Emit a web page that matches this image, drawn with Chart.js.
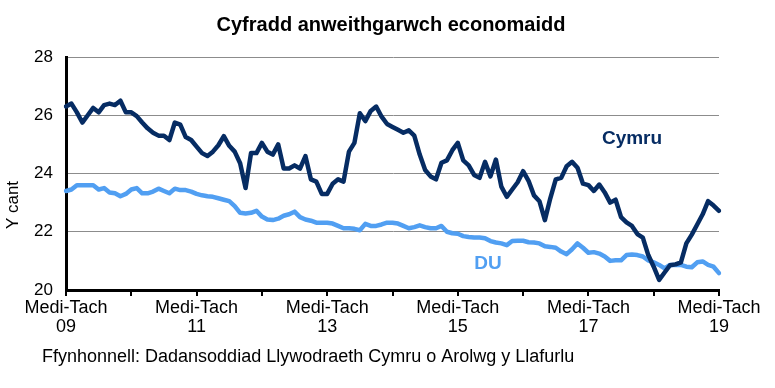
<!DOCTYPE html>
<html><head><meta charset="utf-8">
<script src="https://cdn.jsdelivr.net/npm/chart.js@4/dist/chart.umd.min.js"></script>
<style>html,body{margin:0;padding:0;background:#fff}#wrap{width:775px;height:388px;position:relative}</style>
</head><body><div id="wrap"><canvas id="c" width="775" height="388"></canvas></div>
<script>
const titleText = 'Cyfradd anweithgarwch economaidd';
const yAxisTitle = 'Y cant';
const sourceText = 'Ffynhonnell: Dadansoddiad Llywodraeth Cymru o Arolwg y Llafurlu';
const seriesNames = ['Cymru', 'DU'];
const periodNames = ['Medi-Tach','Hyd-Rhag','Tach-Ion','Rhag-Chwe','Ion-Maw','Chwe-Ebr','Maw-Mai','Ebr-Meh','Mai-Gorff','Meh-Awst','Gorff-Medi','Awst-Hyd'];
const xTickLabels = [['Medi-Tach','09'],['Medi-Tach','11'],['Medi-Tach','13'],['Medi-Tach','15'],['Medi-Tach','17'],['Medi-Tach','19']];
const yTicks = [20, 22, 24, 26, 28];

const cymru = [26.3, 26.4, 26.1, 25.75, 26.0, 26.25, 26.1, 26.35, 26.4, 26.35,
  26.5, 26.1, 26.1, 25.97, 25.75, 25.55, 25.4, 25.3, 25.3, 25.15,
  25.75, 25.68, 25.25, 25.15, 24.92, 24.7, 24.6, 24.75, 24.97, 25.28,
  24.95, 24.75, 24.35, 23.5, 24.7, 24.7, 25.05, 24.75, 24.65, 25.0,
  24.17, 24.17, 24.28, 24.17, 24.6, 23.8, 23.72, 23.3, 23.3, 23.65,
  23.8, 23.72, 24.75, 25.05, 26.07, 25.8, 26.15, 26.3, 25.95, 25.7,
  25.6, 25.5, 25.4, 25.48, 25.3, 24.65, 24.12, 23.9, 23.8, 24.37,
  24.45, 24.8, 25.05, 24.45, 24.28, 23.95, 23.85, 24.4, 23.9, 24.48,
  23.55, 23.2, 23.45, 23.7, 24.08, 23.75, 23.25, 23.05, 22.4, 23.15,
  23.8, 23.85, 24.25, 24.4, 24.2, 23.65, 23.6, 23.4, 23.62, 23.35,
  23.0, 23.1, 22.5, 22.32, 22.2, 21.92, 21.8, 21.2, 20.8, 20.35,
  20.6, 20.85, 20.88, 20.95, 21.6, 21.9, 22.25, 22.6, 23.05, 22.9, 22.72];

const du = [23.4, 23.45, 23.6, 23.6, 23.6, 23.6, 23.45, 23.5, 23.35, 23.32,
  23.22, 23.3, 23.45, 23.5, 23.32, 23.32, 23.38, 23.48, 23.4, 23.32,
  23.48, 23.43, 23.43, 23.38, 23.3, 23.25, 23.22, 23.2, 23.15, 23.1,
  23.05, 22.88, 22.65, 22.63, 22.65, 22.72, 22.52, 22.42, 22.4, 22.45,
  22.55, 22.6, 22.69, 22.5, 22.42, 22.38, 22.31, 22.31, 22.31, 22.28,
  22.2, 22.12, 22.12, 22.1, 22.05, 22.27, 22.2, 22.2, 22.25, 22.31,
  22.31, 22.28, 22.2, 22.12, 22.16, 22.22, 22.16, 22.12, 22.12, 22.2,
  22.0, 21.95, 21.93, 21.85, 21.82, 21.8, 21.8, 21.78, 21.68, 21.63,
  21.6, 21.54, 21.68, 21.69, 21.69, 21.64, 21.63, 21.6, 21.5, 21.48,
  21.45, 21.32, 21.23, 21.4, 21.6, 21.45, 21.28, 21.3, 21.25, 21.15,
  21.0, 21.02, 21.02, 21.2, 21.22, 21.2, 21.15, 21.02, 20.95, 20.86,
  20.74, 20.86, 20.86, 20.86, 20.8, 20.78, 20.95, 20.98, 20.86, 20.8, 20.58];

// category labels: rolling three-month periods, Medi-Tach 09 .. Medi-Tach 19
const categories = [];
for (let i = 0; i < cymru.length; i++) {
  const startYear = 2009 + Math.floor((8 + i) / 12);
  categories.push(periodNames[i % 12] + ' ' + String(startYear % 100).padStart(2, '0'));
}

const COL_CYMRU = '#062c63';
const COL_DU = '#519ff2';
const FONT = '"Liberation Sans", Arial, sans-serif';

const textPlugin = {
  id: 'texts',
  afterDraw(chart) {
    const ctx = chart.ctx;
    ctx.save();
    ctx.textBaseline = 'middle';
    ctx.fillStyle = '#000';
    ctx.font = 'bold 20px ' + FONT;
    ctx.textAlign = 'center';
    ctx.fillText(titleText, 391, 25);
    ctx.font = '18px ' + FONT;
    ctx.textAlign = 'left';
    ctx.fillText(sourceText, 42, 357);
    ctx.font = '17px ' + FONT;
    ctx.save();
    ctx.translate(13, 205);
    ctx.rotate(-Math.PI / 2);
    ctx.textAlign = 'center';
    ctx.fillText(yAxisTitle, 0, 0);
    ctx.restore();
    ctx.font = 'bold 19px ' + FONT;
    ctx.textAlign = 'center';
    ctx.fillStyle = COL_CYMRU;
    ctx.fillText(seriesNames[0], 632, 139);
    ctx.fillStyle = COL_DU;
    ctx.fillText(seriesNames[1], 488, 264);
    ctx.restore();
  }
};

new Chart(document.getElementById('c'), {
  type: 'line',
  data: {
    labels: categories,
    datasets: [
      { label: seriesNames[0], data: cymru, borderColor: COL_CYMRU, borderWidth: 4.5, pointRadius: 0, tension: 0, borderJoinStyle: 'round', borderCapStyle: 'round' },
      { label: seriesNames[1], data: du, borderColor: COL_DU, borderWidth: 4.5, pointRadius: 0, tension: 0, borderJoinStyle: 'round', borderCapStyle: 'round' }
    ]
  },
  options: {
    responsive: false,
    animation: false,
    devicePixelRatio: 1,
    layout: { padding: { top: 57, right: 56, bottom: 0, left: 0 } },
    plugins: { legend: { display: false }, title: { display: false }, tooltip: { enabled: false } },
    scales: {
      x: {
        offset: false,
        border: { color: '#000', width: 3 },
        grid: {
          drawOnChartArea: false, drawTicks: true, tickLength: 6, lineWidth: 2,
          color: (c) => (c.index % 12 === 0 ? '#000' : 'rgba(0,0,0,0)')
        },
        ticks: {
          autoSkip: false, maxRotation: 0, minRotation: 0, padding: 3,
          color: '#000', font: { family: FONT, size: 18, lineHeight: 1.05 },
          callback: (v, i) => (i % 24 === 0 ? xTickLabels[i / 24] : '')
        },
        afterFit: (s) => { s.height = 98; }
      },
      y: {
        min: yTicks[0], max: yTicks[yTicks.length - 1],
        border: { color: '#000', width: 3 },
        grid: { color: '#8c8c8c', lineWidth: 1, drawTicks: false },
        afterBuildTicks: (s) => { s.ticks = yTicks.map(v => ({ value: v })); },
        ticks: { padding: 13, color: '#000', font: { family: FONT, size: 17 } },
        afterFit: (s) => { s.width = 66; }
      }
    }
  },
  plugins: [textPlugin]
});
</script></body></html>
